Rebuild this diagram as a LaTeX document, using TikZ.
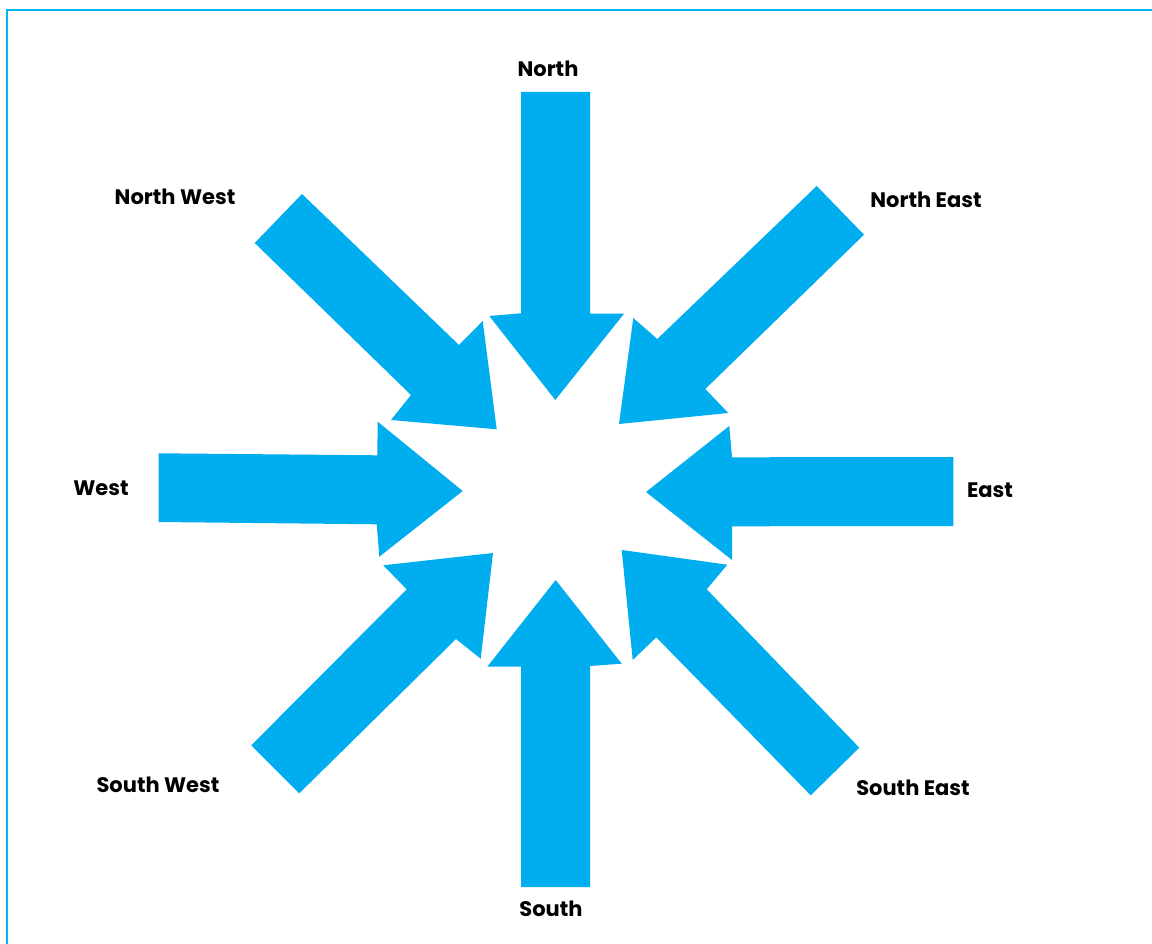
\documentclass[tikz,border=0pt]{standalone}
\usepackage{fontspec}
\setmainfont{Poppins}
\definecolor{arrowblue}{RGB}{0,174,239}
\definecolor{frameblue}{RGB}{0,180,240}
\begin{document}
\begin{tikzpicture}[x=1pt,y=-1pt,
  arrowshape/.style={fill=arrowblue,draw=none},
  lbl/.style={font=\bfseries\fontsize{21}{24}\selectfont,text=black,inner sep=0pt}]
\useasboundingbox (0,0) rectangle (1152,944);
\draw[line width=2pt,draw=frameblue] (7,944) -- (7,10) -- (1152,10);
% arrows
\fill[arrowshape] (302,194) -- (459,345) -- (482.7,321) -- (496.7,429.3) -- (391,420) -- (411,395) -- (254.7,243) -- cycle;
\fill[arrowshape] (521,92) -- (590,92) -- (590,313.7) -- (624,313.7) -- (555.3,400) -- (489.3,316) -- (521,313.3) -- cycle;
\fill[arrowshape] (816.7,186) -- (864,234.7) -- (705.3,389) -- (728.3,413) -- (619,424) -- (633.3,318) -- (657.3,339) -- cycle;
\fill[arrowshape] (953.3,457) -- (953.3,526) -- (732,526.3) -- (732,560) -- (646,492) -- (729.3,426) -- (732,457.3) -- cycle;
\fill[arrowshape] (158.7,453.3) -- (377.3,455.3) -- (377.7,421.7) -- (462.7,491) -- (379.3,556.7) -- (376.7,524.3) -- (158.7,522) -- cycle;
\fill[arrowshape] (251.3,745.3) -- (406.7,589.3) -- (383.3,565.3) -- (493,553) -- (480.7,658.7) -- (456,639) -- (299.3,793.3) -- cycle;
\fill[arrowshape] (521,887) -- (521,666.7) -- (487.3,666.7) -- (555.7,580) -- (621.7,663.7) -- (590,666) -- (590,887) -- cycle;
\fill[arrowshape] (859.3,747.7) -- (706.7,589.3) -- (727.3,564.7) -- (621.7,550) -- (632.7,660) -- (656.3,637.3) -- (810.7,795.3) -- cycle;
% labels
\node[lbl] (n) at (548,69) {North};
\node[lbl] (nw) at (175,197) {North West};
\node[lbl] (ne) at (926,200) {North East};
\node[lbl] (w) at (101,488) {West};
\node[lbl] (e) at (990,490) {East};
\node[lbl] (sw) at (158,785) {South West};
\node[lbl] (se) at (913,788) {South East};
\node[lbl] (s) at (551,909) {South};
\end{tikzpicture}
\end{document}
